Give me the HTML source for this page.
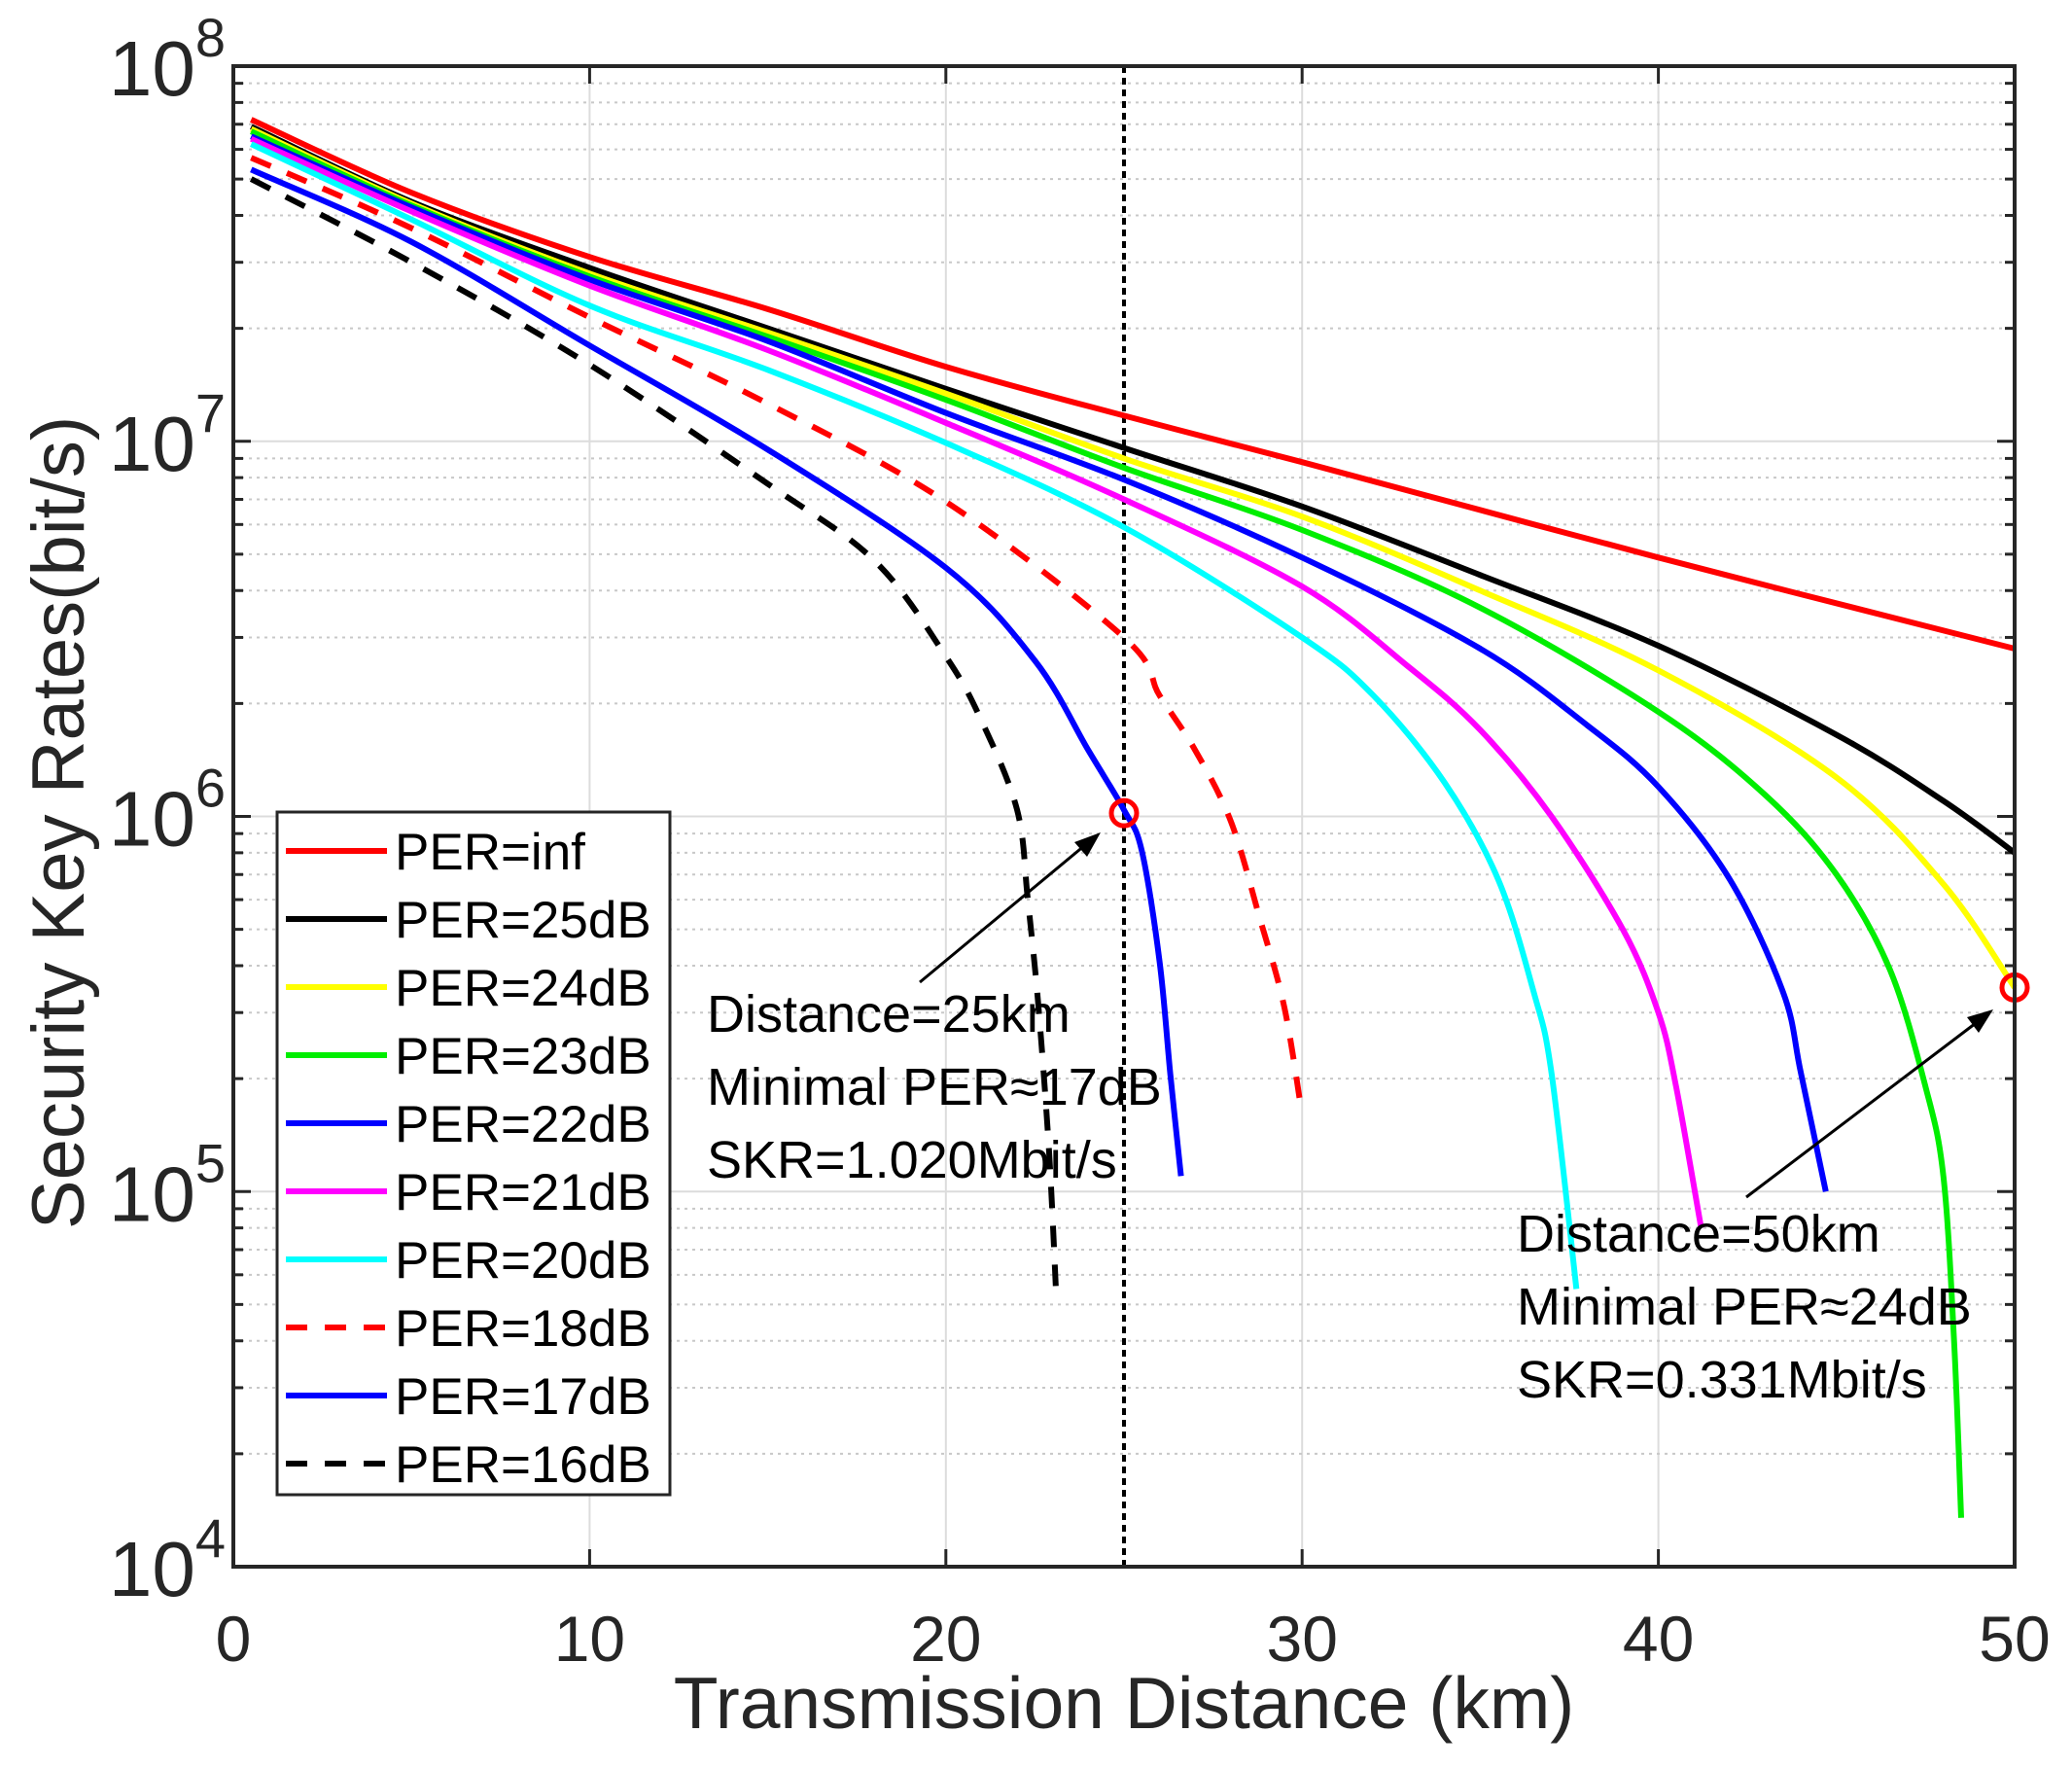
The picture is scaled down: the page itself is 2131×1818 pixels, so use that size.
<!DOCTYPE html>
<html><head><meta charset="utf-8"><style>
html,body{margin:0;padding:0;background:#fff;}
svg{display:block;font-family:"Liberation Sans",Arial,sans-serif;}
</style></head><body>
<svg id="chart" width="2131" height="1818" xmlns="http://www.w3.org/2000/svg"></svg>
<script>
const xTicks=[0,10,20,30,40,50];
const yDecades=[4,5,6,7,8];
const seriesNames=["PER=inf","PER=25dB","PER=24dB","PER=23dB","PER=22dB","PER=21dB","PER=20dB","PER=18dB","PER=17dB","PER=16dB"];
const seriesColors=["#ff0000","#000000","#ffff00","#00ee00","#0000ff","#ff00ff","#00ffff","#ff0000","#0000ff","#000000"];
const seriesDash=[false,false,false,false,false,false,false,true,false,true];
const dInf=[[0.5,7.2e7],[5,4.6e7],[10,3.1e7],[15,2.25e7],[20,1.58e7],[25,1.17e7],[30,8.8e6],[40,4.9e6],[50,2.8e6]];
const d25=[[0.5,6.9e7],[5,4.35e7],[10,2.9e7],[15,2.0e7],[20,1.38e7],[25,9.6e6],[30,6.7e6],[35,4.4e6],[40,2.85e6],[45,1.65e6],[48,1.1e6],[50,8e5]];
const d24=[[0.5,6.8e7],[5,4.3e7],[10,2.8e7],[15,1.95e7],[20,1.34e7],[25,9.0e6],[30,6.3e6],[35,4.0e6],[40,2.45e6],[45,1.27e6],[48,6.6e5],[50,3.5e5]];
const d23=[[0.5,6.7e7],[5,4.25e7],[10,2.75e7],[15,1.9e7],[20,1.29e7],[25,8.5e6],[30,5.8e6],[35,3.6e6],[40,1.9e6],[43,1.14e6],[45,7.0e5],[46.5,3.9e5],[47.5,1.9e5],[48,1.1e5],[48.3,4e4],[48.5,1.35e4]];
const d22=[[0.5,6.5e7],[5,4.2e7],[10,2.7e7],[15,1.85e7],[20,1.19e7],[25,7.9e6],[30,4.9e6],[35,2.8e6],[38,1.75e6],[40,1.2e6],[42,6.8e5],[43.5,3.4e5],[44,2.07e5],[44.7,1e5]];
const d21=[[0.5,6.4e7],[5,4.1e7],[10,2.6e7],[15,1.75e7],[20,1.12e7],[25,7.0e6],[30,4.1e6],[33,2.5e6],[35,1.7e6],[37,1.0e6],[39,5.0e5],[40,3.0e5],[40.5,1.9e5],[41.2,8e4]];
const d20=[[0.5,6.2e7],[5,3.9e7],[10,2.3e7],[15,1.55e7],[20,9.9e6],[25,5.9e6],[30,3.0e6],[32,2.1e6],[34,1.23e6],[35.5,6.8e5],[36.5,3.4e5],[37,2.07e5],[37.7,5.5e4]];
const d18=[[0.5,5.7e7],[5,3.7e7],[10,2.14e7],[15,1.26e7],[20,6.9e6],[25,3.0e6],[26,2.1e6],[27,1.5e6],[28,9.7e5],[28.8,5.4e5],[29.5,3.1e5],[30,1.6e5]];
const d17=[[0.5,5.3e7],[5,3.4e7],[10,1.8e7],[15,9.5e6],[20,4.6e6],[22.5,2.6e6],[24,1.5e6],[25,1.04e6],[25.5,8.1e5],[26,4.1e5],[26.3,2.06e5],[26.6,1.1e5]];
const d16=[[0.5,5.0e7],[5,3.0e7],[10,1.6e7],[15,7.7e6],[18,4.8e6],[20,2.67e6],[21,1.8e6],[22,1.04e6],[22.3,6e5],[22.6,3.1e5],[22.9,1.26e5],[23.1,5.2e4]];
const allData=[dInf,d25,d24,d23,d22,d21,d20,d18,d17,d16];
const markerPts=[[25,1.02e6],[50,3.5e5]];

const NS="http://www.w3.org/2000/svg";
const svg=document.getElementById("chart");
const L=240,R=2072,T=68,B=1611;
const X=v=>L+(v/50)*(R-L);
const Y=v=>B-(Math.log10(v)-4)/4*(B-T);
function mk(tag,attrs,parent){const e=document.createElementNS(NS,tag);for(const k in attrs)e.setAttribute(k,attrs[k]);(parent||svg).appendChild(e);return e;}
function smoothPath(pts){
  const p=pts.map(q=>[X(q[0]),Y(q[1])]);
  let d="M"+p[0][0].toFixed(1)+" "+p[0][1].toFixed(1);
  for(let i=0;i<p.length-1;i++){
    const p0=p[Math.max(0,i-1)],p1=p[i],p2=p[i+1],p3=p[Math.min(p.length-1,i+2)];
    const c1=[p1[0]+(p2[0]-p0[0])/6,p1[1]+(p2[1]-p0[1])/6];
    const c2=[p2[0]-(p3[0]-p1[0])/6,p2[1]-(p3[1]-p1[1])/6];
    d+=" C"+c1.map(v=>v.toFixed(1)).join(" ")+" "+c2.map(v=>v.toFixed(1)).join(" ")+" "+p2[0].toFixed(1)+" "+p2[1].toFixed(1);
  }
  return d;
}

const grid=mk("g",{});


xTicks.forEach(t=>{mk("line",{x1:X(t),x2:X(t),y1:T,y2:B,stroke:"#dcdcdc","stroke-width":2},grid);});
yDecades.forEach(d=>{
  mk("line",{x1:L,x2:R,y1:Y(Math.pow(10,d)),y2:Y(Math.pow(10,d)),stroke:"#dcdcdc","stroke-width":2},grid);
  if(d<8)for(let m=2;m<10;m++){const yy=Y(m*Math.pow(10,d));
    mk("line",{x1:L,x2:R,y1:yy,y2:yy,stroke:"#c8c8c8","stroke-width":2,"stroke-dasharray":"3 5"},grid);
    mk("line",{x1:L,x2:L+10,y1:yy,y2:yy,stroke:"#262626","stroke-width":3},grid);
    mk("line",{x1:R-10,x2:R,y1:yy,y2:yy,stroke:"#262626","stroke-width":3},grid);}
});
const vline=mk("line",{x1:X(25),x2:X(25),y1:T,y2:B,stroke:"#000","stroke-width":4,"stroke-dasharray":"7 5"});



allData.forEach((d,i)=>{
  const p=mk("path",{d:smoothPath(d),fill:"none",stroke:seriesColors[i],"stroke-width":6,"stroke-linejoin":"round","stroke-dasharray":seriesDash[i]?"22 18":"none"});
  
  
});
markerPts.forEach((m,i)=>{
  const c=mk("circle",{cx:X(m[0]),cy:Y(m[1]),r:13,fill:"none",stroke:"#ff0000","stroke-width":5});
  
  
});

const frame=mk("rect",{x:L,y:T,width:R-L,height:B-T,fill:"none",stroke:"#262626","stroke-width":4});


xTicks.forEach(t=>{
  mk("line",{x1:X(t),x2:X(t),y1:B,y2:B-18,stroke:"#262626","stroke-width":3});
  mk("line",{x1:X(t),x2:X(t),y1:T,y2:T+18,stroke:"#262626","stroke-width":3});
  const tx=mk("text",{x:X(t),y:1708,"text-anchor":"middle","font-size":66,fill:"#262626"});
  tx.textContent=t;
  
  
});
yDecades.forEach(d=>{
  const yy=Y(Math.pow(10,d));
  mk("line",{x1:L,x2:L+18,y1:yy,y2:yy,stroke:"#262626","stroke-width":3});
  mk("line",{x1:R-18,x2:R,y1:yy,y2:yy,stroke:"#262626","stroke-width":3});
  const tx=mk("text",{x:232,y:yy+30,"text-anchor":"end","font-size":80,fill:"#262626"});
  tx.textContent="10";
  const s=mk("tspan",{dy:-40,"font-size":56},tx);s.textContent=d;
  
  
});
</script>
<svg style="position:absolute;left:0;top:0" width="2131" height="1818" xmlns="http://www.w3.org/2000/svg" font-family="Liberation Sans, Arial, sans-serif">
<text x="1156" y="1777" text-anchor="middle" font-size="75" fill="#262626">Transmission Distance (km)</text>
<text transform="translate(86,846) rotate(-90)" text-anchor="middle" font-size="76" fill="#262626">Security Key Rates(bit/s)</text>
<g>
<rect x="285" y="835" width="404" height="702" fill="#fff" stroke="#262626" stroke-width="3"/>
<g font-size="53" fill="#000">
<line x1="294" x2="398" y1="875" y2="875" stroke="#ff0000" stroke-width="6"/><text x="406" y="894">PER=inf</text>
<line x1="294" x2="398" y1="945" y2="945" stroke="#000" stroke-width="6"/><text x="406" y="964">PER=25dB</text>
<line x1="294" x2="398" y1="1015" y2="1015" stroke="#ffff00" stroke-width="6"/><text x="406" y="1034">PER=24dB</text>
<line x1="294" x2="398" y1="1085" y2="1085" stroke="#00ee00" stroke-width="6"/><text x="406" y="1104">PER=23dB</text>
<line x1="294" x2="398" y1="1155" y2="1155" stroke="#0000ff" stroke-width="6"/><text x="406" y="1174">PER=22dB</text>
<line x1="294" x2="398" y1="1225" y2="1225" stroke="#ff00ff" stroke-width="6"/><text x="406" y="1244">PER=21dB</text>
<line x1="294" x2="398" y1="1295" y2="1295" stroke="#00ffff" stroke-width="6"/><text x="406" y="1314">PER=20dB</text>
<line x1="294" x2="398" y1="1365" y2="1365" stroke="#ff0000" stroke-width="6" stroke-dasharray="22 18"/><text x="406" y="1384">PER=18dB</text>
<line x1="294" x2="398" y1="1435" y2="1435" stroke="#0000ff" stroke-width="6"/><text x="406" y="1454">PER=17dB</text>
<line x1="294" x2="398" y1="1505" y2="1505" stroke="#000" stroke-width="6" stroke-dasharray="22 18"/><text x="406" y="1524">PER=16dB</text>
</g></g>
<g font-size="54" fill="#000">
<line x1="946" y1="1010" x2="1122" y2="864" stroke="#000" stroke-width="3"/>
<polygon points="1132,856 1105,866 1118,881" fill="#000"/>
<text x="727" y="1061">Distance=25km</text>
<text x="727" y="1136">Minimal PER≈17dB</text>
<text x="727" y="1211">SKR=1.020Mbit/s</text>
</g>
<g font-size="54" fill="#000">
<line x1="1796" y1="1231" x2="2040" y2="1046" stroke="#000" stroke-width="3"/>
<polygon points="2050,1038 2023,1046 2035,1062" fill="#000"/>
<text x="1560" y="1287">Distance=50km</text>
<text x="1560" y="1362">Minimal PER≈24dB</text>
<text x="1560" y="1437">SKR=0.331Mbit/s</text>
</g>
</svg>
</body></html>
